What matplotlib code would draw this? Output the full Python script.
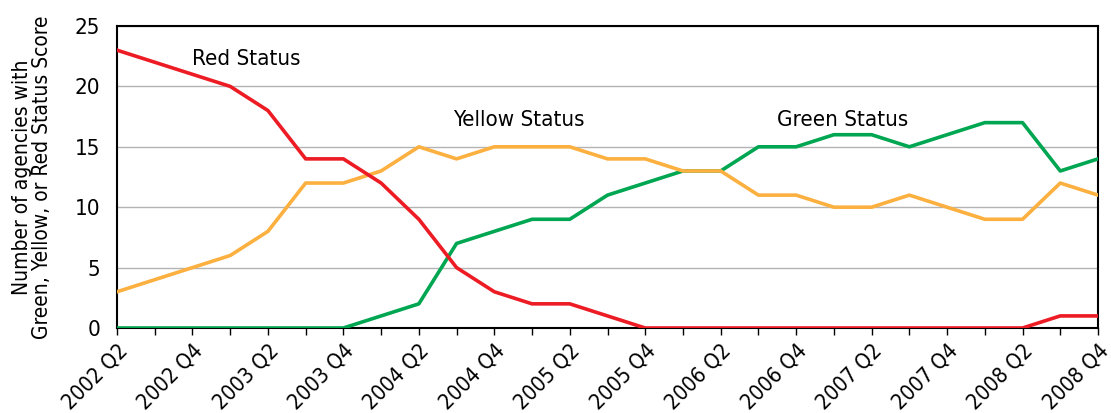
import matplotlib
matplotlib.use("Agg")

import matplotlib.pyplot as plt

# quarters 2002 Q2 .. 2008 Q4
quarters = []
for yr in range(2002, 2009):
    for q in range(1, 5):
        if yr == 2002 and q < 2:
            continue
        quarters.append(f"{yr} Q{q}")

red = [23, 22, 21, 20, 18, 14, 14, 12, 9, 5, 3, 2, 2, 1, 0,
       0, 0, 0, 0, 0, 0, 0, 0, 0, 0, 1, 1]
yellow = [3, 4, 5, 6, 8, 12, 12, 13, 15, 14, 15, 15, 15, 14, 14,
          13, 13, 11, 11, 10, 10, 11, 10, 9, 9, 12, 11]
green = [0, 0, 0, 0, 0, 0, 0, 1, 2, 7, 8, 9, 9, 11, 12,
         13, 13, 15, 15, 16, 16, 15, 16, 17, 17, 13, 14]

plt.rcParams["font.family"] = ["DejaVu Sans"]
plt.rcParams["font.stretch"] = "condensed"

fig = plt.figure(figsize=(11.11, 4.13), dpi=100)
ax = fig.add_axes([117 / 1111, 1 - 328 / 413, (1098 - 117) / 1111, (328 - 26) / 413])

x = list(range(len(quarters)))
ax.plot(x, green, color="#00A651", lw=2.6, zorder=3)
ax.plot(x, yellow, color="#FBB040", lw=2.6, zorder=3)
ax.plot(x, red, color="#ED1C24", lw=2.6, zorder=4)

ax.set_xlim(0, len(quarters) - 1)
ax.set_ylim(0, 25)
ax.set_yticks([0, 5, 10, 15, 20, 25])
ax.yaxis.grid(True, color="#b3b3b3", lw=1.0)
ax.set_axisbelow(True)
ax.tick_params(axis="y", length=0, labelsize=16, pad=12)

ax.set_xticks(x, minor=True)
ax.set_xticks(x[::2])
ax.set_xticklabels(quarters[::2], rotation=45, ha="right", rotation_mode="anchor")
ax.tick_params(axis="x", which="both", direction="out", length=5, width=1,
               labelsize=15.5, pad=4)

for s in ax.spines.values():
    s.set_color("black")
    s.set_linewidth(1.5)

ax.set_ylabel("Number of agencies with\nGreen, Yellow, or Red Status Score",
              fontsize=15, linespacing=1.0, labelpad=16)

ax.text(2.0, 21.8, "Red Status", fontsize=16)
ax.text(8.9, 16.7, "Yellow Status", fontsize=16)
ax.text(17.5, 16.7, "Green Status", fontsize=16)

plt.savefig("out.png", dpi=100)
plt.close()
